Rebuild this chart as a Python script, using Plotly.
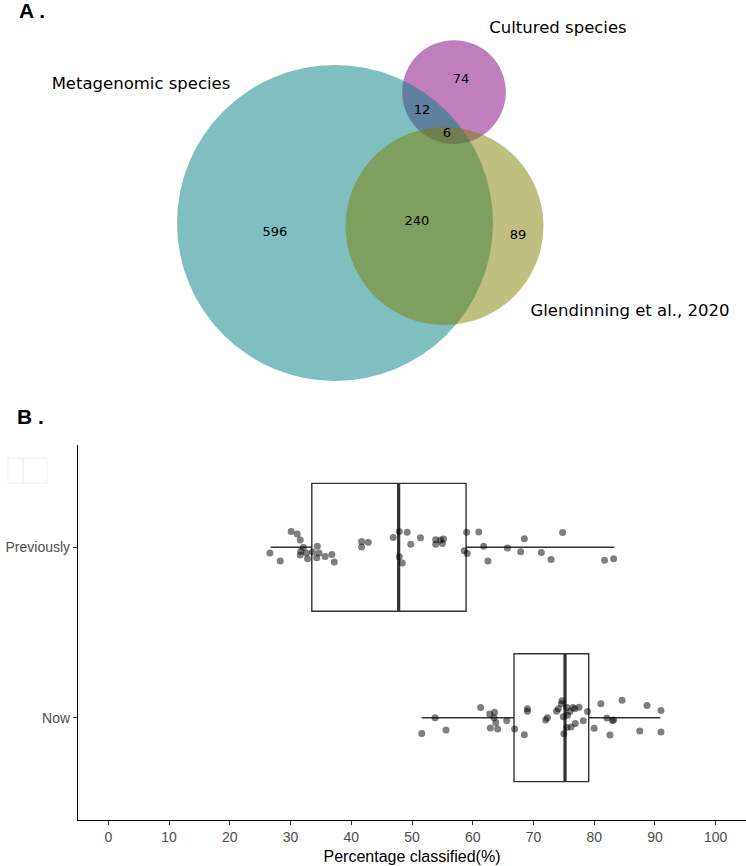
import math
import plotly.graph_objects as go

# ---------------- Data ----------------
# Venn region counts
venn_regions = ["Metagenomic only", "Metagenomic & Glendinning", "Glendinning only",
                "Cultured only", "Metagenomic & Cultured", "All three"]
venn_counts = [596, 240, 89, 74, 12, 6]
set_names = ["Metagenomic species", "Cultured species", "Glendinning et al., 2020"]

# Box plot data: percentage classified per sample
categories = ["Previously", "Now"]
prev_values = [26.6, 28.3, 30.1, 31.1, 31.6, 32.1, 31.7, 31.6, 32.6, 32.8, 33.6, 34.4,
               34.7, 34.3, 35.7, 36.8, 37.2, 41.7, 42.8, 41.7, 46.9, 47.9, 49.2, 49.8,
               47.9, 48.4, 51.4, 53.9, 53.9, 54.7, 55.0, 55.2, 59.0, 61.0, 61.8, 58.6,
               59.1, 62.5, 65.7, 67.9, 68.5, 71.3, 72.9, 74.8, 81.7, 83.2]
prev_jitter = [-0.034, -0.080, 0.092, 0.078, 0.042, -0.002, -0.024, -0.046, -0.034, -0.068,
               -0.028, 0.006, -0.034, -0.062, -0.054, -0.042, -0.086, 0.034, 0.030, 0.002,
               0.058, 0.092, 0.088, 0.018, -0.056, -0.092, 0.056, 0.044, 0.018, 0.042,
               0.022, 0.048, 0.088, 0.090, 0.006, -0.020, -0.036, -0.080, -0.004, -0.026,
               0.050, -0.030, -0.072, 0.086, -0.076, -0.068]
now_values = [51.6, 53.8, 55.6, 61.3, 62.8, 63.6, 63.5, 63.8, 62.9, 64.1, 65.6, 66.9,
              68.5, 69.0, 69.0, 72.0, 72.3, 73.8, 74.1, 74.7, 74.6, 75.5, 74.9, 75.6,
              76.0, 76.5, 76.8, 77.5, 76.9, 76.2, 75.5, 75.0, 78.2, 78.9, 80.0, 81.1,
              82.1, 82.6, 83.2, 83.0, 84.6, 87.5, 88.7, 91.0, 91.0]
now_jitter = [-0.092, 0.000, -0.072, 0.060, 0.022, 0.032, 0.000, -0.030, -0.060, -0.066,
              -0.018, -0.066, -0.100, 0.052, 0.038, -0.014, 0.000, 0.038, 0.052, 0.100,
              0.082, 0.060, 0.006, 0.014, 0.036, 0.060, 0.052, 0.062, -0.034, -0.054,
              -0.058, -0.094, -0.018, 0.036, -0.062, 0.082, -0.002, -0.102, -0.014, -0.016,
              0.102, -0.078, 0.072, 0.042, -0.084]

# Box statistics
box_q1 = [33.5, 66.8]
box_median = [47.8, 75.2]
box_q3 = [58.9, 79.1]
box_lower = [26.7, 51.6]
box_upper = [83.3, 90.9]

x_ticks = [0, 10, 20, 30, 40, 50, 60, 70, 80, 90, 100]

# ---------------- Layout constants ----------------
W, H = 746, 866
cat_pos = {"Previously": 2, "Now": 1}
BOX_W = 0.75

# Venn geometry (pixel-like units on a dedicated axis)
VENN_SCALE = 158 / math.sqrt(854)
venn_centers = {"Metagenomic species": (335, 223),
                "Cultured species": (454, 92),
                "Glendinning et al., 2020": (444.5, 226)}
venn_colors = {"Metagenomic species": "rgb(0,128,128)",
               "Cultured species": "rgb(128,0,128)",
               "Glendinning et al., 2020": "rgb(128,128,0)"}
region_label_pos = [(275, 233), (417, 222), (518, 236), (461, 80), (422, 111), (447, 134)]
set_label_pos = {"Metagenomic species": (141, 85),
                 "Cultured species": (558, 29),
                 "Glendinning et al., 2020": (630, 312)}

set_totals = {
    "Metagenomic species": venn_counts[0] + venn_counts[1] + venn_counts[4] + venn_counts[5],
    "Cultured species": venn_counts[3] + venn_counts[4] + venn_counts[5],
    "Glendinning et al., 2020": venn_counts[1] + venn_counts[2] + venn_counts[5],
}

fig = go.Figure()

# ---------------- Venn (panel A) ----------------
shapes = []
for name in ["Cultured species", "Metagenomic species", "Glendinning et al., 2020"]:
    cx, cy = venn_centers[name]
    r = VENN_SCALE * math.sqrt(set_totals[name])
    shapes.append(dict(type="circle", xref="x2", yref="y2",
                       x0=cx - r, x1=cx + r, y0=cy - r, y1=cy + r,
                       fillcolor=venn_colors[name], opacity=0.5,
                       line=dict(width=0), layer="below"))

fig.add_trace(go.Scatter(
    x=[p[0] for p in region_label_pos], y=[p[1] for p in region_label_pos],
    text=[str(c) for c in venn_counts], mode="text",
    textfont=dict(family="DejaVu Sans", size=13, color="black"),
    xaxis="x2", yaxis="y2", hoverinfo="skip", showlegend=False))
fig.add_trace(go.Scatter(
    x=[set_label_pos[n][0] for n in set_names], y=[set_label_pos[n][1] for n in set_names],
    text=set_names, mode="text",
    textfont=dict(family="DejaVu Sans", size=16.5, color="black"),
    xaxis="x2", yaxis="y2", hoverinfo="skip", showlegend=False))

# ---------------- Box plot (panel B) ----------------
for i, cat in enumerate(categories):
    fig.add_trace(go.Box(
        y=[cat_pos[cat]], q1=[box_q1[i]], median=[box_median[i]], q3=[box_q3[i]],
        lowerfence=[box_lower[i]], upperfence=[box_upper[i]],
        orientation="h", width=BOX_W, whiskerwidth=0, boxpoints=False,
        fillcolor="rgba(255,255,255,0)", line=dict(color="#333333", width=1.4),
        hoverinfo="skip", showlegend=False))
    # thick median line
    fig.add_trace(go.Scatter(
        x=[box_median[i], box_median[i]],
        y=[cat_pos[cat] - BOX_W / 2, cat_pos[cat] + BOX_W / 2],
        mode="lines", line=dict(color="#333333", width=3.2),
        hoverinfo="skip", showlegend=False))

for vals, jit, cat in [(prev_values, prev_jitter, "Previously"), (now_values, now_jitter, "Now")]:
    fig.add_trace(go.Scatter(
        x=vals, y=[cat_pos[cat] + j for j in jit], mode="markers",
        marker=dict(color="rgba(0,0,0,0.5)", size=7, line=dict(width=0)),
        hoverinfo="skip", showlegend=False))

# faint legend remnant box
shapes.append(dict(type="rect", xref="paper", yref="paper",
                   x0=8 / W, x1=23 / W, y0=1 - 483 / H, y1=1 - 458 / H,
                   line=dict(color="#f0f0f0", width=1), fillcolor="rgba(0,0,0,0)"))
shapes.append(dict(type="rect", xref="paper", yref="paper",
                   x0=23 / W, x1=47 / W, y0=1 - 483 / H, y1=1 - 458 / H,
                   line=dict(color="#f0f0f0", width=1), fillcolor="rgba(0,0,0,0)"))

annotations = [
    dict(text="<b>A .</b>", x=17 / W, y=1 - 11 / H, xref="paper", yref="paper",
         xanchor="left", yanchor="middle", showarrow=False,
         font=dict(family="Liberation Sans", size=21, color="black")),
    dict(text="<b>B .</b>", x=15 / W, y=1 - 416 / H, xref="paper", yref="paper",
         xanchor="left", yanchor="middle", showarrow=False,
         font=dict(family="Liberation Sans", size=21, color="black")),
]

fig.update_layout(
    width=W, height=H,
    margin=dict(l=0, r=0, t=0, b=0),
    paper_bgcolor="white", plot_bgcolor="rgba(0,0,0,0)",
    shapes=shapes, annotations=annotations,
    xaxis=dict(domain=[78 / W, 1.0], range=[-5, 105], tickvals=x_ticks,
               showgrid=False, zeroline=False, showline=True, linecolor="black",
               linewidth=1.2, ticks="outside", ticklen=4, tickcolor="#333333",
               tickfont=dict(family="Liberation Sans", size=14, color="#4d4d4d"),
               title=dict(text="Percentage classified(%)", standoff=6,
                          font=dict(family="Liberation Sans", size=16, color="black")),
               anchor="y", fixedrange=True),
    yaxis=dict(domain=[46 / H, 421 / H], range=[0.4, 2.6],
               tickvals=[cat_pos[c] for c in categories], ticktext=categories,
               showgrid=False, zeroline=False, showline=True, linecolor="black",
               linewidth=1.2, ticks="outside", ticklen=4, tickcolor="#333333",
               tickfont=dict(family="Liberation Sans", size=14, color="#4d4d4d"),
               anchor="x", fixedrange=True),
    xaxis2=dict(domain=[0, 1], range=[0, W], visible=False, anchor="y2", fixedrange=True),
    yaxis2=dict(domain=[1 - 400 / H, 1], range=[400, 0], visible=False, anchor="x2",
                fixedrange=True),
)

fig.write_html("out.html", config={"displayModeBar": False},
               post_script="document.body.style.margin='0';")
